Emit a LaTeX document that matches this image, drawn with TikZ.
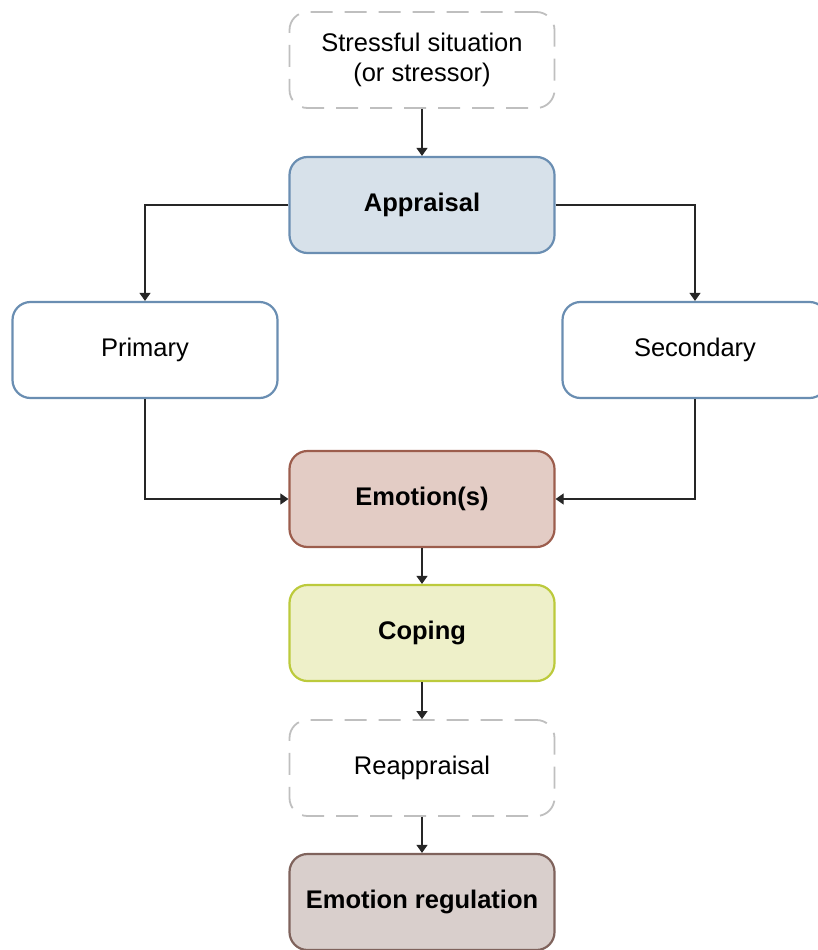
\documentclass[tikz,border=0pt]{standalone}
\usepackage{fontspec}
\setmainfont{Liberation Sans}
\usetikzlibrary{arrows.meta}

\definecolor{dashgray}{HTML}{BFBFBF}
\definecolor{blueedge}{HTML}{6A8EB2}
\definecolor{bluefill}{HTML}{D7E1EA}
\definecolor{emoedge}{HTML}{9C5D4D}
\definecolor{emofill}{HTML}{E3CCC5}
\definecolor{copeedge}{HTML}{BCCA3C}
\definecolor{copefill}{HTML}{EEF0C9}
\definecolor{regedge}{HTML}{7F635C}
\definecolor{regfill}{HTML}{D9CFCC}

\tikzset{
  box/.style={rectangle, rounded corners=18pt, minimum width=265pt, minimum height=96pt,
    line width=2.2pt, align=center, font=\fontsize{25.5}{29.5}\selectfont, inner sep=0pt},
  dashbox/.style={box, draw=dashgray, fill=white, line width=1.8pt, dash pattern=on 22pt off 12pt},
  bluebox/.style={box, draw=blueedge, fill=white},
  appbox/.style={box, draw=blueedge, fill=bluefill, font=\fontsize{25.5}{29.5}\selectfont\bfseries},
  emobox/.style={box, draw=emoedge, fill=emofill, font=\fontsize{25.5}{29.5}\selectfont\bfseries},
  copebox/.style={box, draw=copeedge, fill=copefill, font=\fontsize{25.5}{29.5}\selectfont\bfseries},
  regbox/.style={box, draw=regedge, fill=regfill, font=\fontsize{25.5}{29.5}\selectfont\bfseries},
  link/.style={draw=black!85, line width=1.1pt, -{Triangle[length=8pt,width=11pt]}}
}

\begin{document}
\begin{tikzpicture}[x=1pt, y={(0pt,-1pt)}]
  \useasboundingbox (0,0) rectangle (818,950);

  \node[dashbox] (stress) at (422,60) {Stressful situation\\(or stressor)};
  \node[appbox] (appr) at (422,205) {Appraisal};
  \node[bluebox] (prim) at (145,350) {Primary};
  \node[bluebox] (sec) at (695,350) {Secondary};
  \node[emobox] (emo) at (422,499) {Emotion(s)};
  \node[copebox] (cope) at (422,633) {Coping};
  \node[dashbox] (reapp) at (422,768) {Reappraisal};
  \node[regbox] (reg) at (422,902) {Emotion regulation};

  \draw[link] (stress) -- (appr);
  \draw[link] (appr.west) -| (prim.north);
  \draw[link] (appr.east) -| (sec.north);
  \draw[link] (prim.south) |- (emo.west);
  \draw[link] (sec.south) |- (emo.east);
  \draw[link] (emo) -- (cope);
  \draw[link] (cope) -- (reapp);
  \draw[link] (reapp) -- (reg);
\end{tikzpicture}
\end{document}
